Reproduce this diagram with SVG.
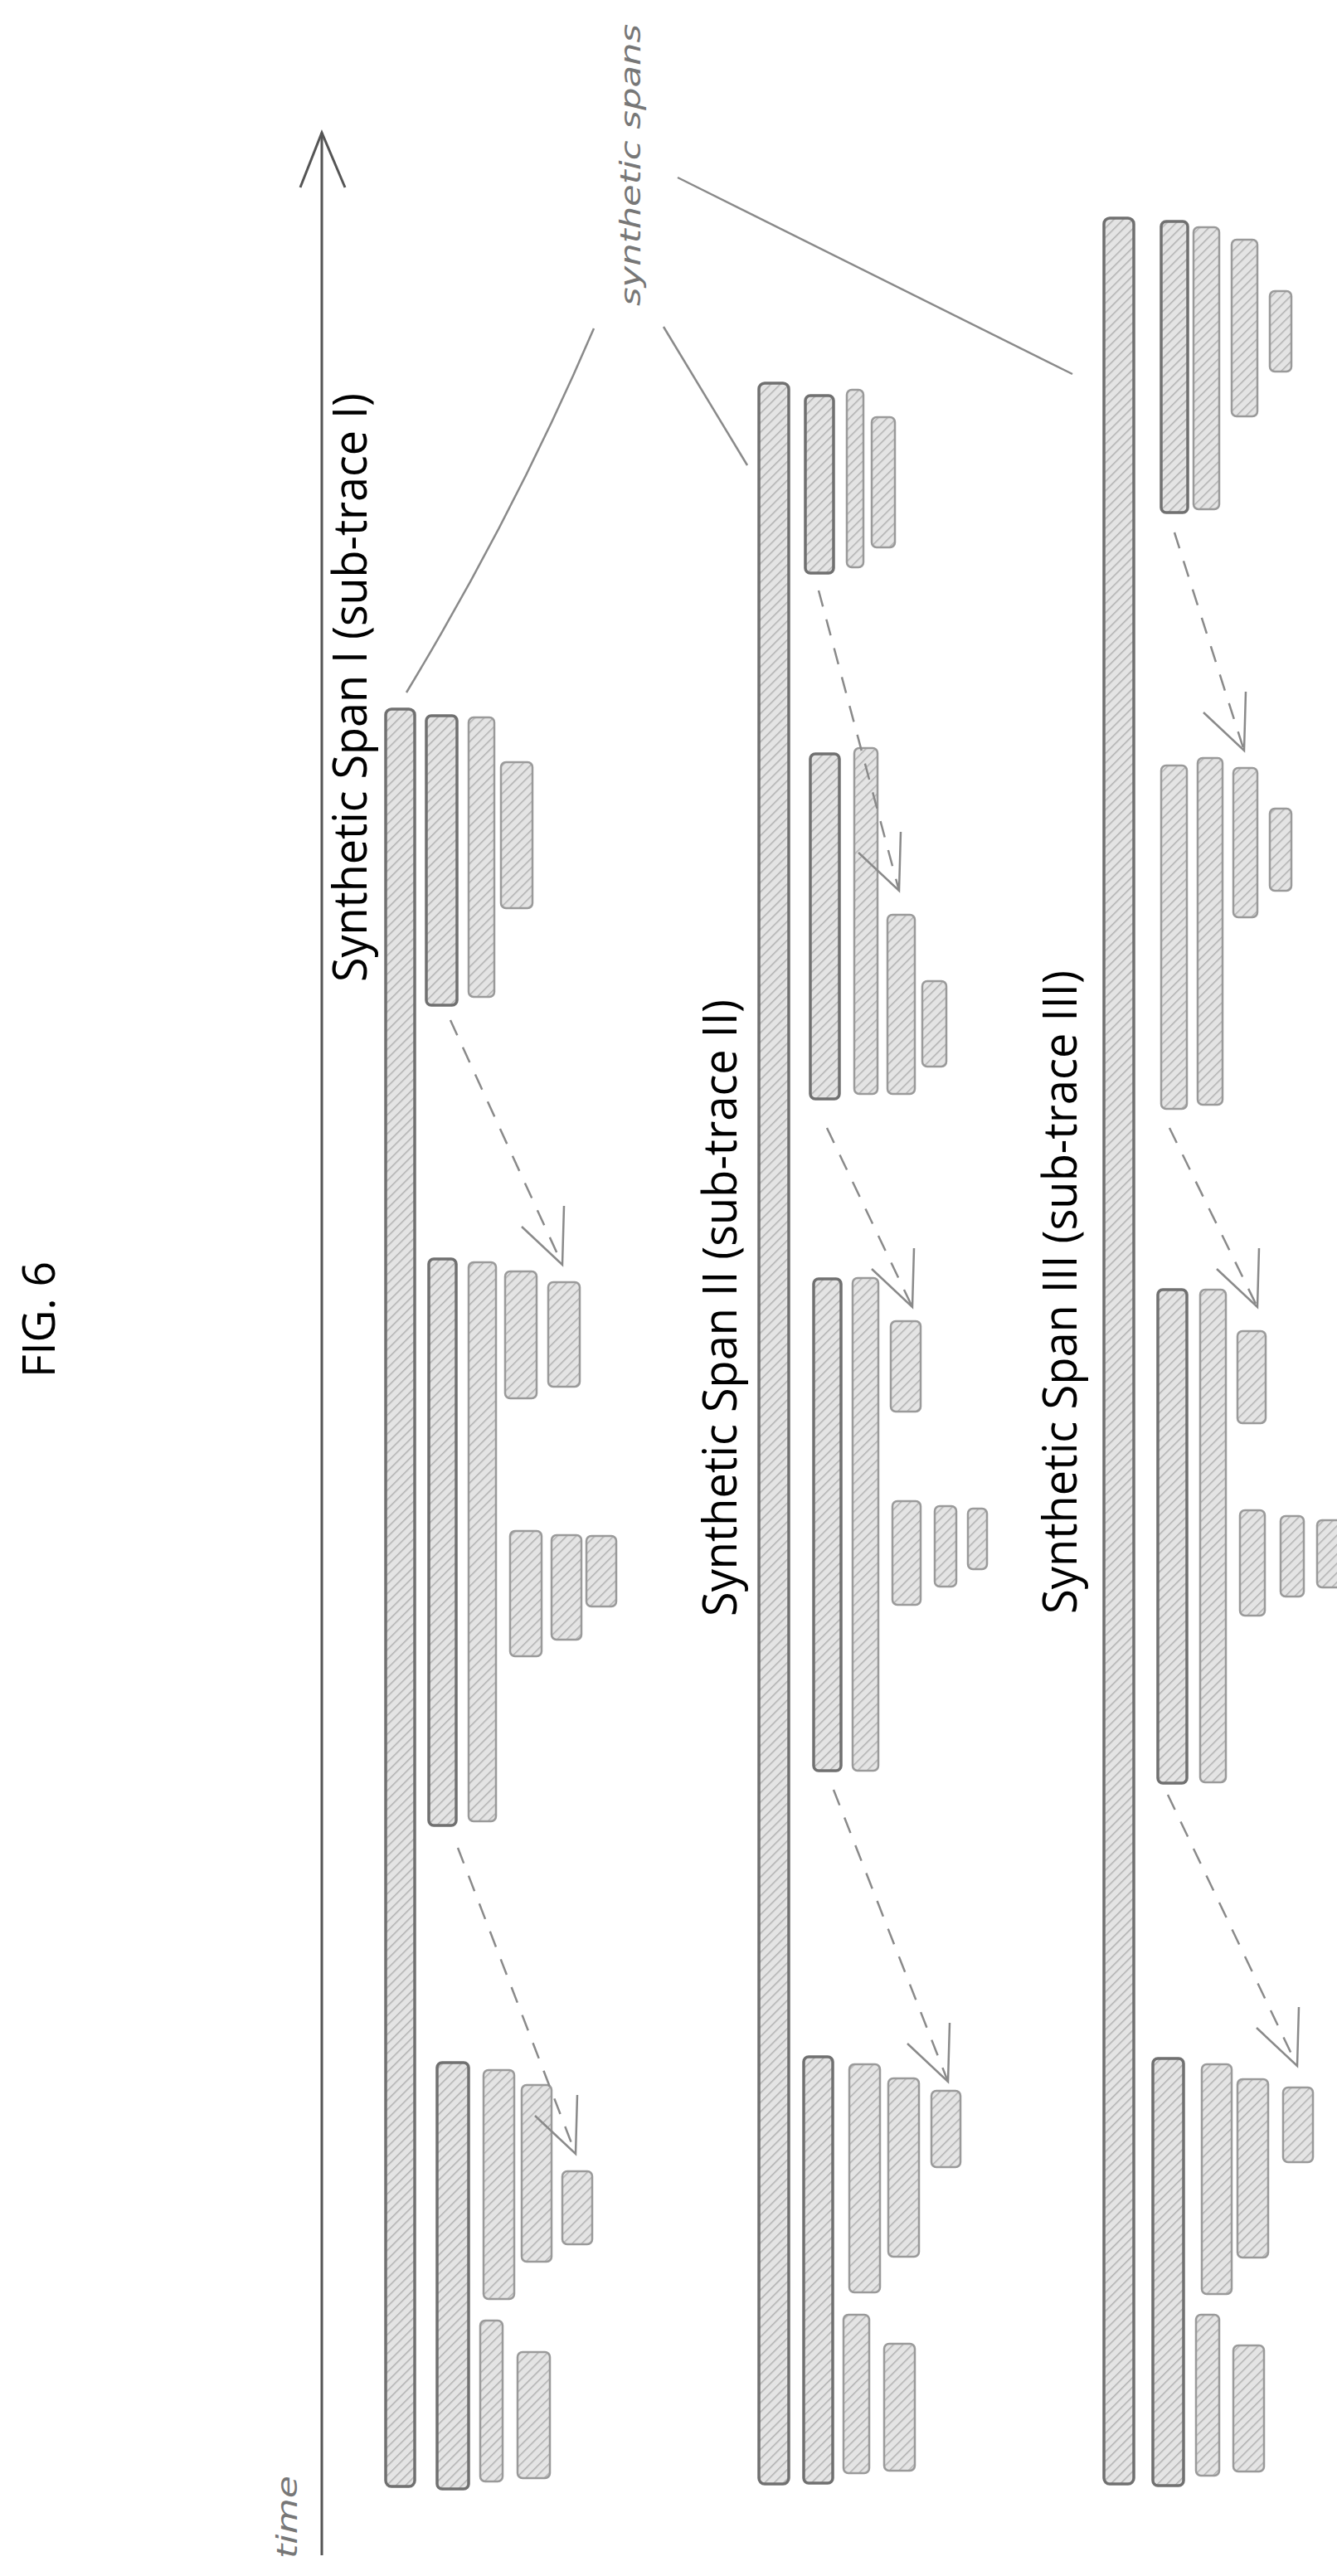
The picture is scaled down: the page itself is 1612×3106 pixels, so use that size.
<svg xmlns="http://www.w3.org/2000/svg" width="1612" height="3106" viewBox="0 0 1612 3106">
<defs>
<pattern id="h" width="8" height="8" patternUnits="userSpaceOnUse" patternTransform="rotate(45)">
<rect width="8" height="8" fill="#e4e4e4"/>
<line x1="0" y1="0" x2="0" y2="8" stroke="#b0b0b0" stroke-width="3"/>
</pattern>
<style>
.b{fill:url(#h);stroke:#9a9a9a;stroke-width:2.5}
.d{fill:url(#h);stroke:#707070;stroke-width:3.5}
.ln{fill:none;stroke:#8a8a8a;stroke-width:2.5}
.da{fill:none;stroke:#8a8a8a;stroke-width:2.5;stroke-dasharray:20 16}
.ah{fill:none;stroke:#8a8a8a;stroke-width:2.5}
.t{font-family:"Open Sans","Liberation Sans",sans-serif;fill:#000}
.hw{font-family:"DejaVu Sans",sans-serif;fill:#777;font-style:italic}
</style>
</defs>
<rect width="1612" height="3106" fill="#fff"/>
<text class="t" x="66" y="1661" font-size="54" textLength="140" lengthAdjust="spacingAndGlyphs" transform="rotate(-90 66 1661)">FIG. 6</text>
<g id="axis">
<line x1="388" y1="160" x2="388" y2="3081" stroke="#555" stroke-width="3"/>
<path d="M362,226 L388,160 L416,226" fill="none" stroke="#555" stroke-width="3"/>
<text class="hw" x="358" y="3085" font-size="34" fill="#444" textLength="100" lengthAdjust="spacingAndGlyphs" transform="rotate(-90 358 3085)">time</text>
</g>
<g id="label-synthetic-spans">
<text class="hw" x="772" y="369" font-size="34" textLength="340" lengthAdjust="spacingAndGlyphs" transform="rotate(-90 772 369)">synthetic spans</text>
</g>
<g id="span1">
<text class="t" x="442" y="1184" font-size="56" textLength="710" lengthAdjust="spacingAndGlyphs" transform="rotate(-90 442 1184)">Synthetic Span I (sub-trace I)</text>
<rect class="d" x="465" y="855" width="35" height="2143" rx="7"/>
<rect class="d" x="514" y="863" width="37" height="349" rx="6"/>
<rect class="b" x="565" y="865" width="31" height="337" rx="6"/>
<rect class="b" x="604" y="919" width="38" height="176" rx="6"/>
<rect class="d" x="517" y="1518" width="33" height="683" rx="6"/>
<rect class="b" x="565" y="1522" width="33" height="674" rx="6"/>
<rect class="b" x="609" y="1533" width="38" height="153" rx="6"/>
<rect class="b" x="661" y="1546" width="38" height="126" rx="6"/>
<rect class="b" x="615" y="1846" width="38" height="151" rx="6"/>
<rect class="b" x="665" y="1851" width="36" height="126" rx="6"/>
<rect class="b" x="707" y="1852" width="36" height="85" rx="6"/>
<rect class="d" x="527" y="2487" width="38" height="514" rx="6"/>
<rect class="b" x="583" y="2496" width="37" height="276" rx="6"/>
<rect class="b" x="629" y="2514" width="36" height="213" rx="6"/>
<rect class="b" x="678" y="2618" width="36" height="88" rx="6"/>
<rect class="b" x="579" y="2798" width="27" height="194" rx="6"/>
<rect class="b" x="624" y="2836" width="39" height="152" rx="6"/>
</g>
<g id="span2">
<text class="t" x="888" y="1949" font-size="56" textLength="744" lengthAdjust="spacingAndGlyphs" transform="rotate(-90 888 1949)">Synthetic Span II (sub-trace II)</text>
<rect class="d" x="915" y="462" width="36" height="2533" rx="7"/>
<rect class="d" x="971" y="477" width="34" height="214" rx="6"/>
<rect class="b" x="1021" y="470" width="20" height="214" rx="6"/>
<rect class="b" x="1051" y="503" width="28" height="157" rx="6"/>
<rect class="d" x="977" y="909" width="35" height="416" rx="6"/>
<rect class="b" x="1030" y="902" width="28" height="417" rx="6"/>
<rect class="b" x="1070" y="1103" width="33" height="216" rx="6"/>
<rect class="b" x="1112" y="1183" width="29" height="103" rx="6"/>
<rect class="d" x="981" y="1542" width="33" height="593" rx="6"/>
<rect class="b" x="1028" y="1541" width="31" height="594" rx="6"/>
<rect class="b" x="1074" y="1593" width="36" height="109" rx="6"/>
<rect class="b" x="1076" y="1810" width="34" height="125" rx="6"/>
<rect class="b" x="1127" y="1816" width="26" height="97" rx="6"/>
<rect class="b" x="1167" y="1819" width="23" height="73" rx="6"/>
<rect class="d" x="969" y="2480" width="35" height="514" rx="6"/>
<rect class="b" x="1024" y="2489" width="37" height="275" rx="6"/>
<rect class="b" x="1071" y="2506" width="37" height="215" rx="6"/>
<rect class="b" x="1123" y="2521" width="35" height="92" rx="6"/>
<rect class="b" x="1017" y="2791" width="31" height="191" rx="6"/>
<rect class="b" x="1066" y="2826" width="37" height="153" rx="6"/>
</g>
<g id="span3">
<text class="t" x="1298" y="1946" font-size="56" textLength="776" lengthAdjust="spacingAndGlyphs" transform="rotate(-90 1298 1946)">Synthetic Span III (sub-trace III)</text>
<rect class="d" x="1331" y="263" width="36" height="2732" rx="7"/>
<rect class="d" x="1400" y="267" width="32" height="351" rx="6"/>
<rect class="b" x="1439" y="274" width="31" height="340" rx="6"/>
<rect class="b" x="1485" y="289" width="31" height="213" rx="6"/>
<rect class="b" x="1531" y="351" width="26" height="97" rx="6"/>
<rect class="b" x="1400" y="923" width="31" height="414" rx="6"/>
<rect class="b" x="1444" y="914" width="30" height="418" rx="6"/>
<rect class="b" x="1487" y="926" width="29" height="180" rx="6"/>
<rect class="b" x="1531" y="975" width="26" height="99" rx="6"/>
<rect class="d" x="1396" y="1555" width="35" height="595" rx="6"/>
<rect class="b" x="1447" y="1555" width="31" height="594" rx="6"/>
<rect class="b" x="1492" y="1605" width="34" height="111" rx="6"/>
<rect class="b" x="1495" y="1821" width="30" height="127" rx="6"/>
<rect class="b" x="1544" y="1828" width="28" height="97" rx="6"/>
<rect class="b" x="1588" y="1833" width="30" height="81" rx="6"/>
<rect class="d" x="1390" y="2482" width="37" height="515" rx="6"/>
<rect class="b" x="1449" y="2489" width="36" height="277" rx="6"/>
<rect class="b" x="1492" y="2507" width="37" height="215" rx="6"/>
<rect class="b" x="1547" y="2517" width="36" height="90" rx="6"/>
<rect class="b" x="1442" y="2791" width="28" height="194" rx="6"/>
<rect class="b" x="1487" y="2828" width="37" height="152" rx="6"/>
</g>
<g id="connectors">
<path class="ln" d="M716,396 Q620,620 490,835"/>
<path class="ln" d="M800,394 L901,561"/>
<path class="ln" d="M817,214 L1293,451"/>
<path class="da" d="M543,1230 L678,1525"/><path class="ah" d="M629,1479 L678,1525 L680,1454"/>
<path class="da" d="M552,2228 L694,2597"/><path class="ah" d="M645,2551 L694,2597 L696,2526"/>
<path class="da" d="M1416,642 L1500,905"/><path class="ah" d="M1451,859 L1500,905 L1502,834"/>
<path class="da" d="M987,712 L1084,1074"/><path class="ah" d="M1035,1028 L1084,1074 L1086,1003"/>
<path class="da" d="M997,1360 L1100,1576"/><path class="ah" d="M1051,1530 L1100,1576 L1102,1505"/>
<path class="da" d="M1005,2158 L1143,2510"/><path class="ah" d="M1094,2464 L1143,2510 L1145,2439"/>
<path class="da" d="M1410,1360 L1516,1576"/><path class="ah" d="M1467,1530 L1516,1576 L1518,1505"/>
<path class="da" d="M1408,2164 L1564,2491"/><path class="ah" d="M1515,2445 L1564,2491 L1566,2420"/>
</g>
</svg>
